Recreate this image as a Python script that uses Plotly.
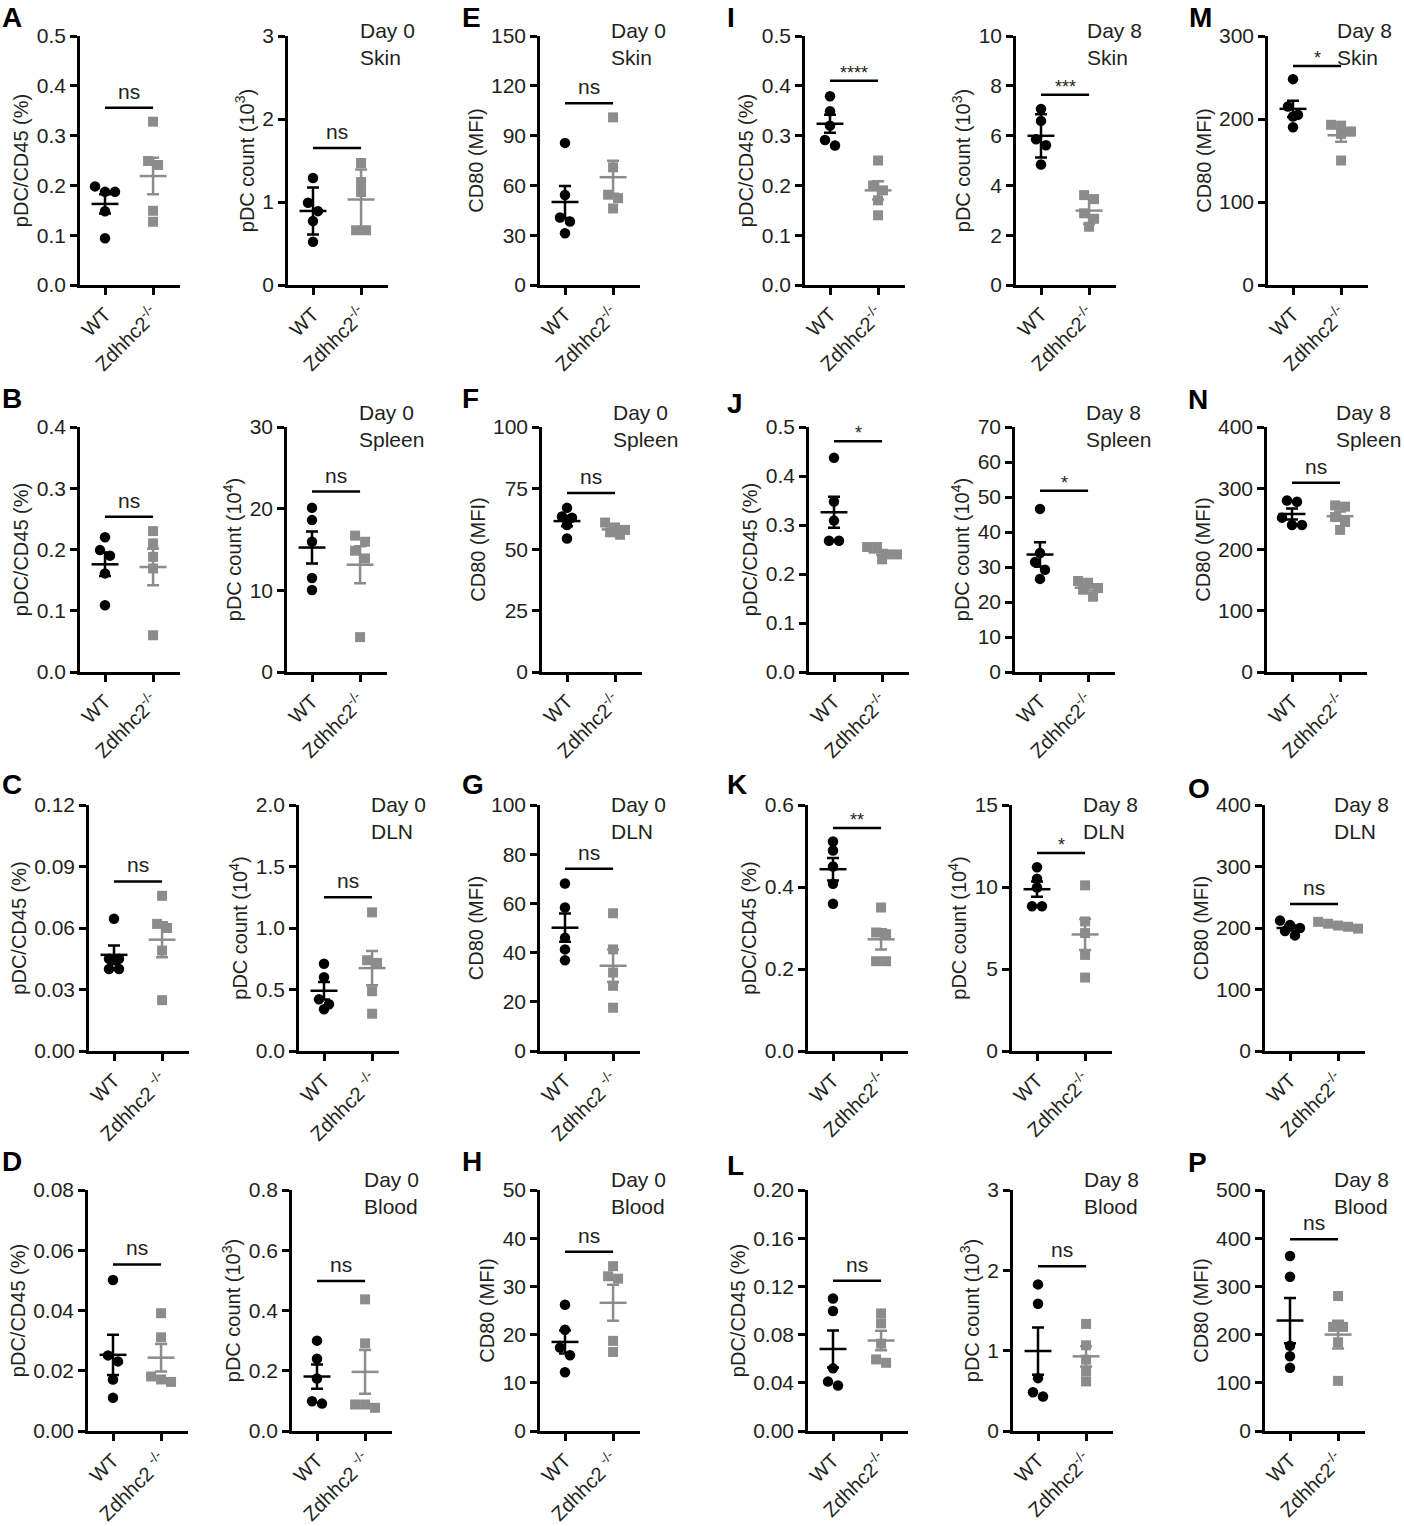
import numpy as np
import plotly.graph_objects as go

W, H = 1404, 1526

GROUPS = ["WT", "Zdhhc2<sup>-/-</sup>"]
GROUPS_SP = ["WT", "Zdhhc2 <sup>-/-</sup>"]
TISSUES = ["Skin", "Spleen", "DLN", "Blood"]

# ---- values (5 mice per group) ----
# row 1 : skin
A_pct_WT = [0.198, 0.187, 0.187, 0.148, 0.094]
A_pct_KO = [0.328, 0.249, 0.241, 0.149, 0.127]
A_cnt_WT = [1.29, 0.99, 0.89, 0.77, 0.52]
A_cnt_KO = [1.47, 1.24, 1.12, 0.66, 0.66]
E_WT = [85.6, 54.2, 40.7, 38.3, 31.2]
E_KO = [101.0, 70.9, 54.4, 52.3, 46.1]
I_pct_WT = [0.379, 0.349, 0.320, 0.291, 0.280]
I_pct_KO = [0.250, 0.200, 0.190, 0.170, 0.140]
I_cnt_WT = [7.07, 6.59, 5.85, 5.61, 4.84]
I_cnt_KO = [3.61, 3.45, 2.88, 2.66, 2.34]
M_WT = [248, 215, 205, 203, 190]
M_KO = [193, 192, 185, 182, 150]

# row 2 : spleen
B_pct_WT = [0.220, 0.199, 0.190, 0.161, 0.109]
B_pct_KO = [0.230, 0.210, 0.188, 0.169, 0.060]
B_cnt_WT = [20.1, 18.6, 15.95, 11.5, 10.05]
B_cnt_KO = [16.7, 15.95, 14.85, 13.9, 4.27]
F_WT = [67.0, 63.5, 63.0, 60.0, 54.5]
F_KO = [61.0, 59.0, 58.0, 57.0, 56.0]
J_pct_WT = [0.437, 0.348, 0.309, 0.268, 0.268]
J_pct_KO = [0.255, 0.255, 0.240, 0.240, 0.230]
J_cnt_WT = [46.6, 34.0, 31.4, 29.2, 26.6]
J_cnt_KO = [26.0, 25.5, 24.0, 23.5, 21.5]
N_WT = [280, 278, 252, 240, 240]
N_KO = [272, 270, 253, 245, 232]

# row 3 : draining lymph node
C_pct_WT = [0.0645, 0.045, 0.045, 0.040, 0.040]
C_pct_KO = [0.0757, 0.062, 0.060, 0.049, 0.0248]
C_cnt_WT = [0.71, 0.60, 0.42, 0.38, 0.34]
C_cnt_KO = [1.127, 0.738, 0.716, 0.486, 0.303]
G_WT = [68.1, 58.3, 46.0, 41.3, 36.9]
G_KO = [56.0, 41.3, 31.9, 26.5, 17.6]
K_pct_WT = [0.511, 0.489, 0.450, 0.408, 0.359]
K_pct_KO = [0.350, 0.289, 0.285, 0.219, 0.219]
K_cnt_WT = [11.2, 10.5, 9.97, 8.83, 8.83]
K_cnt_KO = [10.1, 7.9, 7.19, 5.86, 4.48]
O_WT = [212, 205, 200, 195, 188]
O_KO = [210, 207, 204, 202, 199]

# row 4 : blood
D_pct_WT = [0.0501, 0.0251, 0.0231, 0.0171, 0.0110]
D_pct_KO = [0.0391, 0.0311, 0.0181, 0.0171, 0.0163]
D_cnt_WT = [0.300, 0.240, 0.174, 0.099, 0.091]
D_cnt_KO = [0.437, 0.291, 0.088, 0.088, 0.077]
H_WT = [26.2, 21.0, 17.3, 15.7, 12.2]
H_KO = [34.2, 32.1, 31.6, 18.7, 16.4]
L_pct_WT = [0.110, 0.0996, 0.052, 0.041, 0.0377]
L_pct_KO = [0.0976, 0.0893, 0.0725, 0.0594, 0.0566]
L_cnt_WT = [1.825, 1.583, 0.658, 0.483, 0.429]
L_cnt_KO = [1.333, 1.067, 0.888, 0.742, 0.617]
P_WT = [363, 320, 177, 155, 131]
P_KO = [280, 216, 216, 184, 104]

DATA = [
    [(A_pct_WT, A_pct_KO), (A_cnt_WT, A_cnt_KO), (E_WT, E_KO),
     (I_pct_WT, I_pct_KO), (I_cnt_WT, I_cnt_KO), (M_WT, M_KO)],
    [(B_pct_WT, B_pct_KO), (B_cnt_WT, B_cnt_KO), (F_WT, F_KO),
     (J_pct_WT, J_pct_KO), (J_cnt_WT, J_cnt_KO), (N_WT, N_KO)],
    [(C_pct_WT, C_pct_KO), (C_cnt_WT, C_cnt_KO), (G_WT, G_KO),
     (K_pct_WT, K_pct_KO), (K_cnt_WT, K_cnt_KO), (O_WT, O_KO)],
    [(D_pct_WT, D_pct_KO), (D_cnt_WT, D_cnt_KO), (H_WT, H_KO),
     (L_pct_WT, L_pct_KO), (L_cnt_WT, L_cnt_KO), (P_WT, P_KO)],
]

# y axis max and tick step
Y_MAX = [[0.5, 3, 150, 0.5, 10, 300],
         [0.4, 30, 100, 0.5, 70, 400],
         [0.12, 2.0, 100, 0.6, 15, 400],
         [0.08, 0.8, 50, 0.20, 3, 500]]
Y_STEP = [[0.1, 1, 30, 0.1, 2, 100],
          [0.1, 10, 25, 0.1, 10, 100],
          [0.03, 0.5, 20, 0.2, 5, 100],
          [0.02, 0.2, 10, 0.04, 1, 100]]
COUNT_EXP = [3, 4, 4, 3]

# significance label and bracket height
SIG = [["ns", "ns", "ns", "****", "***", "*"],
       ["ns", "ns", "ns", "*", "*", "ns"],
       ["ns", "ns", "ns", "**", "*", "ns"],
       ["ns", "ns", "ns", "ns", "ns", "ns"]]
BRACKET = [[0.356, 1.65, 109.5, 0.41, 7.64, 264],
           [0.2535, 22.1, 73.1, 0.471, 51.8, 309],
           [0.0827, 1.249, 74.1, 0.544, 12.08, 239],
           [0.0553, 0.498, 37.2, 0.1247, 2.05, 398]]

# the two count panels of row 1 are plotted as mean +/- SD, the rest mean +/- SEM
USE_SD = {(0, 1), (0, 4)}

LETTERS = [["A", None, "E", "I", None, "M"],
           ["B", None, "F", "J", None, "N"],
           ["C", None, "G", "K", None, "O"],
           ["D", None, "H", "L", None, "P"]]

# ---- layout in pixels ----
PANEL_X = [[80, 288, 540, 805, 1016, 1268],
           [80, 287, 542, 809, 1015, 1267],
           [89, 299, 540, 808, 1012, 1265],
           [88, 292, 540, 808, 1013, 1265]]
PANEL_Y = [(36, 285), (427, 672), (805, 1051), (1190, 1431)]
LETTER_POS = [[(0, 0), None, (460, 0), (725, 0), None, (1187, 0)],
              [(0, 381), None, (460, 381), (725, 386), None, (1186, 382)],
              [(0, 767), None, (460, 767), (725, 767), None, (1186, 771)],
              [(0, 1144), None, (460, 1144), (725, 1148), None, (1186, 1145)]]
NOTE_Y = [17, 399, 791, 1166]
NOTE_DX = {1: 70, 2: 69, 4: 69, 5: 67}
AX_W = 100
X_RANGE = [-0.52, 1.56]
PX_PER_UNIT = AX_W / (X_RANGE[1] - X_RANGE[0])

FONT = "Liberation Sans, Arial, sans-serif"
INK = "#231f20"
GREY = "#8c8c8c"
COLORS = ["#000000", GREY]
SYMBOLS = ["circle", "square"]


def swarm(vals, ymax, h_px, d=10.5):
    """Spread points that sit at nearly the same height side by side"""
    v = np.asarray(vals, float)
    ypx = v / ymax * h_px
    order = np.argsort(-ypx, kind="stable")
    offs = np.zeros(len(v))
    group = []

    def flush(g):
        n = len(g)
        for k, idx in enumerate(g):
            offs[idx] = (k - (n - 1) / 2) * d * 0.95

    for idx in order:
        if group and ypx[group[0]] - ypx[idx] >= 0.8 * d:
            flush(group)
            group = []
        group.append(idx)
    flush(group)
    return offs / PX_PER_UNIT


def y_title(col, row):
    if col in (0, 3):
        return "pDC/CD45 (%)"
    if col in (1, 4):
        return "pDC count (10<sup>%d</sup>)" % COUNT_EXP[row]
    return "CD80 (MFI)"


def main():
    fig = go.Figure()
    layout = {}
    annotations = []
    n = 0
    for r in range(4):
        top, bot = PANEL_Y[r]
        for c in range(6):
            n += 1
            xs = "x" if n == 1 else "x%d" % n
            ys = "y" if n == 1 else "y%d" % n
            ymax = Y_MAX[r][c]
            step = Y_STEP[r][c]

            for g, vals in enumerate(DATA[r][c]):
                v = np.asarray(vals, float)
                offs = swarm(v, ymax, bot - top)
                fig.add_trace(go.Scatter(
                    x=g + offs, y=v, mode="markers", xaxis=xs, yaxis=ys,
                    marker=dict(symbol=SYMBOLS[g], color=COLORS[g],
                                size=10.5 if g == 0 else 10, line=dict(width=0)),
                    hoverinfo="y"))
                m = v.mean()
                err = v.std(ddof=1)
                if (r, c) not in USE_SD:
                    err = err / np.sqrt(len(v))
                fig.add_trace(go.Scatter(
                    x=[g - 0.28, g + 0.28], y=[m, m], mode="lines",
                    xaxis=xs, yaxis=ys, hoverinfo="skip",
                    line=dict(color=COLORS[g], width=2.5)))
                fig.add_trace(go.Scatter(
                    x=[g], y=[m], mode="markers", xaxis=xs, yaxis=ys,
                    marker=dict(size=1, color=COLORS[g]), hoverinfo="skip",
                    error_y=dict(type="data", array=[err], color=COLORS[g],
                                 thickness=2.5, width=6)))

            # significance bracket
            b = BRACKET[r][c]
            fig.add_trace(go.Scatter(
                x=[0, 1], y=[b, b], mode="lines", xaxis=xs, yaxis=ys,
                hoverinfo="skip", line=dict(color="black", width=2.5)))
            stars = SIG[r][c] != "ns"
            annotations.append(dict(
                text=SIG[r][c], x=0.5, y=b, xref=xs, yref=ys,
                xanchor="center", yanchor="bottom", showarrow=False,
                yshift=-4 if stars else 3,
                font=dict(family=FONT, size=18 if stars else 21, color=INK)))

            x0 = PANEL_X[r][c]
            dec = max(0, -int(np.floor(np.log10(step) + 1e-9)))
            tv = np.round(np.arange(0, ymax + step / 2, step), 6)
            labels = GROUPS_SP if (r >= 2 and c <= 2) else GROUPS
            layout["xaxis" if n == 1 else "xaxis%d" % n] = dict(
                domain=[x0 / W, (x0 + AX_W) / W], range=X_RANGE, anchor=ys,
                showline=True, linewidth=2.5, linecolor="black",
                ticks="outside", ticklen=7, tickwidth=2.5, tickcolor="black",
                tickvals=[0, 1], ticktext=labels, tickangle=-45,
                tickfont=dict(family=FONT, size=20, color=INK),
                showgrid=False, zeroline=False, automargin=False)
            layout["yaxis" if n == 1 else "yaxis%d" % n] = dict(
                domain=[1 - bot / H, 1 - top / H], range=[0, ymax], anchor=xs,
                showline=True, linewidth=2.5, linecolor="black",
                ticks="outside", ticklen=7, tickwidth=2.5, tickcolor="black",
                tickvals=list(tv), ticktext=["%.*f" % (dec, t) for t in tv],
                tickfont=dict(family=FONT, size=21, color=INK),
                title=dict(text=y_title(c, r), standoff=3,
                           font=dict(family=FONT, size=20, color=INK)),
                showgrid=False, zeroline=False, automargin=False)

            # panel letters
            lp = LETTER_POS[r][c]
            if lp is not None:
                annotations.append(dict(
                    text="<b>%s</b>" % LETTERS[r][c], x=lp[0] / W, y=1 - lp[1] / H,
                    xref="paper", yref="paper", xanchor="left", yanchor="top",
                    showarrow=False, font=dict(family=FONT, size=28, color="black")))

            # day / tissue note
            if c in NOTE_DX:
                day = "Day 0" if c < 3 else "Day 8"
                annotations.append(dict(
                    text="%s<br>%s" % (day, TISSUES[r]), x=(x0 + NOTE_DX[c]) / W,
                    y=1 - NOTE_Y[r] / H, xref="paper", yref="paper",
                    xanchor="left", yanchor="top", align="left", showarrow=False,
                    font=dict(family=FONT, size=21, color=INK)))

    # autoexpand off: annotations near the page edge must not shrink the panels
    fig.update_layout(
        width=W, height=H, margin=dict(l=0, r=0, t=0, b=0, autoexpand=False),
        paper_bgcolor="white", plot_bgcolor="white", showlegend=False,
        annotations=annotations, **layout)
    fig.write_html("out.html", config={"displayModeBar": False},
                   post_script="document.body.style.margin='0px';")


if __name__ == "__main__":
    main()
